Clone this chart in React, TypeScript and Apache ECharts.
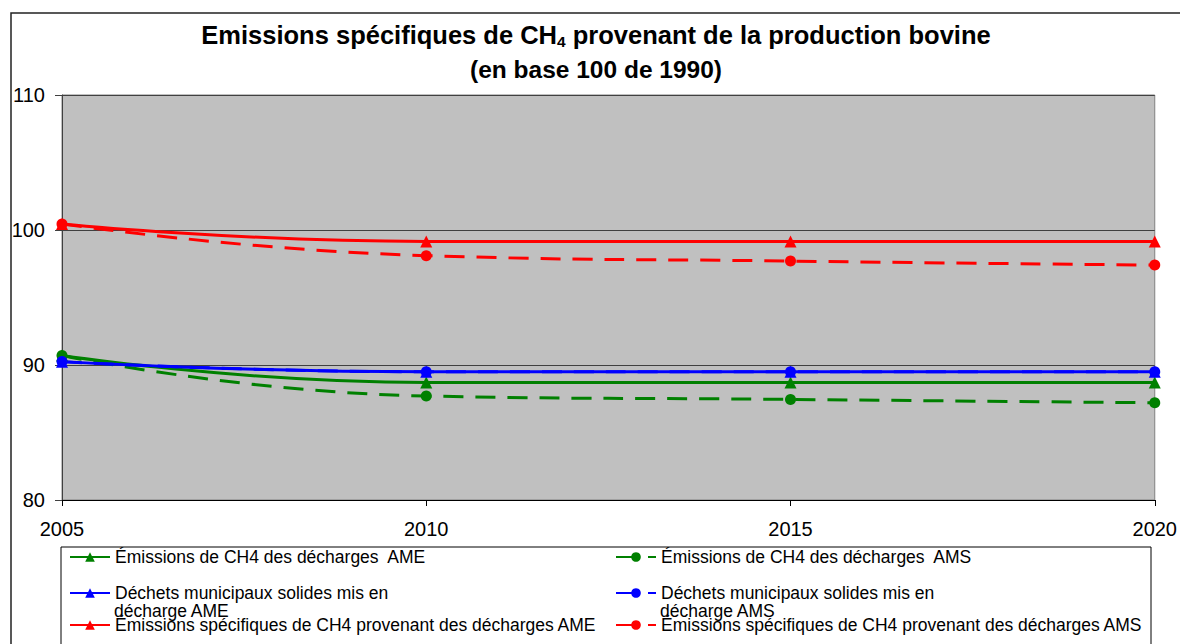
import React, { useEffect, useRef } from "react";
import * as echarts from "echarts";

const years = [2005, 2010, 2015, 2020];
const yTicks = [80, 90, 100, 110];

const greenAME = [90.7, 88.7, 88.7, 88.7];
const greenAMS = [90.7, 87.7, 87.45, 87.2];
const blueAME = [90.25, 89.5, 89.5, 89.5];
const blueAMS = [90.25, 89.5, 89.5, 89.5];
const redAME = [100.45, 99.15, 99.15, 99.15];
const redAMS = [100.45, 98.1, 97.7, 97.4];

const names = [
  "Émissions de CH4 des décharges  AME",
  "Émissions de CH4 des décharges  AMS",
  "Déchets municipaux solides mis en décharge AME",
  "Déchets municipaux solides mis en décharge AMS",
  "Émissions spécifiques de CH4 provenant des décharges AME",
  "Émissions spécifiques de CH4 provenant des décharges AMS",
];

const FONT = 'Arial, "Liberation Sans", sans-serif';

export default function App() {
  const ref = useRef<HTMLDivElement>(null);

  useEffect(() => {
    if (!ref.current) return;
    const chart = echarts.init(ref.current, null, { renderer: "svg" });

    const mk = (
      name: string,
      vals: number[],
      color: string,
      dashed: boolean
    ) => ({
      name,
      type: "line",
      data: years.map((y, i) => [y, vals[i]]),
      smooth: 0.5,
      symbol: dashed ? "circle" : "triangle",
      symbolSize: dashed ? 11 : 12,
      itemStyle: { color },
      lineStyle: { color, width: 3, type: dashed ? [20, 12] : "solid" },
      z: 3,
    });

    const legendBase = {
      orient: "horizontal",
      padding: 0,
      itemWidth: 40,
      itemHeight: 12,
      itemGap: 5,
      selectedMode: false,
      textStyle: { fontSize: 17.5, color: "#000", fontFamily: FONT, lineHeight: 18 },
      formatter: (n: string) => n.replace(" décharge AME", "").replace(" décharge AMS", ""),
    };

    const rowTops = [548, 584, 616];
    const legends = names.map((n, i) => ({
      ...legendBase,
      data: [n],
      left: i % 2 === 0 ? 69 : 615,
      top: rowTops[Math.floor(i / 2)],
    }));

    chart.setOption({
      animation: false,
      backgroundColor: "#fff",
      textStyle: { fontFamily: FONT },
      grid: {
        left: 62,
        right: 23,
        top: 95,
        bottom: 144,
        show: true,
        backgroundColor: "#c0c0c0",
        borderColor: "#808080",
        borderWidth: 1,
      },
      xAxis: {
        type: "value",
        min: years[0],
        max: years[years.length - 1],
        interval: 5,
        axisLine: { show: true, lineStyle: { color: "#000", width: 1 } },
        axisTick: { show: true, length: 6, lineStyle: { color: "#000" } },
        axisLabel: {
          fontSize: 20,
          color: "#000",
          fontFamily: FONT,
          margin: 19,
          formatter: (v: number) => String(v),
        },
        splitLine: { show: false },
      },
      yAxis: {
        type: "value",
        min: yTicks[0],
        max: yTicks[yTicks.length - 1],
        interval: 10,
        axisLine: { show: true, lineStyle: { color: "#404040", width: 1 } },
        axisTick: { show: true, length: 7, lineStyle: { color: "#404040" } },
        axisLabel: { fontSize: 20, color: "#000", fontFamily: FONT, margin: 17 },
        splitLine: { show: true, lineStyle: { color: "#404040", width: 1 } },
      },
      legend: legends,
      series: [
        mk(names[0], greenAME, "#008000", false),
        mk(names[1], greenAMS, "#008000", true),
        mk(names[2], blueAME, "#0000ff", false),
        mk(names[3], blueAMS, "#0000ff", true),
        mk(names[4], redAME, "#ff0000", false),
        mk(names[5], redAMS, "#ff0000", true),
      ],
      graphic: [
        {
          type: "rect",
          shape: { x: 11, y: 13, width: 1200, height: 700 },
          style: { fill: "none", stroke: "#222", lineWidth: 1.5 },
          silent: true,
          z: -10,
        },
        {
          type: "rect",
          shape: { x: 61, y: 547, width: 1090, height: 120 },
          style: { fill: "none", stroke: "#000", lineWidth: 1 },
          silent: true,
        },
        {
          type: "text",
          x: 596,
          y: 35,
          style: {
            text: "{a|Emissions spécifiques de CH}{s|4}{a| provenant de la production bovine}",
            align: "center",
            verticalAlign: "middle",
            rich: {
              a: { fontSize: 25.5, fontWeight: "bold", fontFamily: FONT, fill: "#000", lineHeight: 28 },
              s: {
                fontSize: 15.5,
                fontWeight: "bold",
                fontFamily: FONT,
                fill: "#000",
                lineHeight: 28,
                verticalAlign: "bottom",
              },
            },
          },
        },
        {
          type: "text",
          x: 596,
          y: 69,
          style: {
            text: "(en base 100 de 1990)",
            align: "center",
            verticalAlign: "middle",
            fontSize: 24.5,
            fontWeight: "bold",
            fontFamily: FONT,
            fill: "#000",
          },
        },
        {
          type: "text",
          x: 114,
          y: 611,
          style: {
            text: "décharge AME",
            verticalAlign: "middle",
            fontSize: 17.5,
            fontFamily: FONT,
            fill: "#000",
          },
        },
        {
          type: "text",
          x: 660,
          y: 611,
          style: {
            text: "décharge AMS",
            verticalAlign: "middle",
            fontSize: 17.5,
            fontFamily: FONT,
            fill: "#000",
          },
        },
      ],
    });

    return () => chart.dispose();
  }, []);

  return (
    <div
      ref={ref}
      style={{ position: "absolute", left: 0, top: 0, width: 1180, height: 644 }}
    />
  );
}
